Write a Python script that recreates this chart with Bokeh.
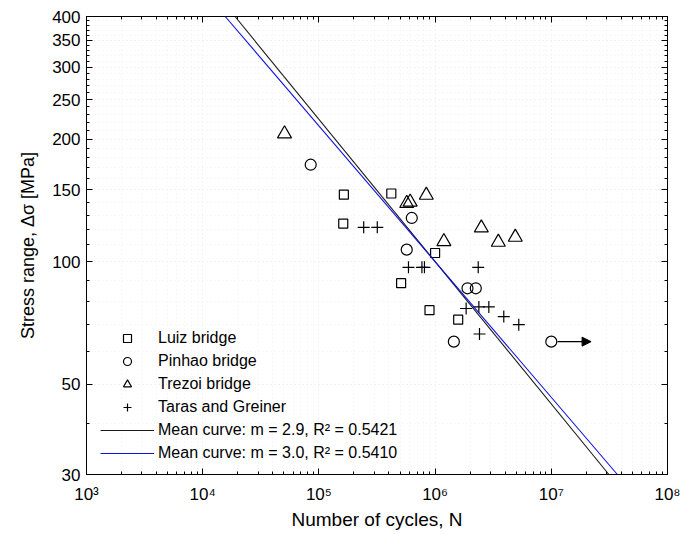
import numpy as np
from bokeh.plotting import figure
from bokeh.models import (Range1d, LogAxis, FixedTicker, Legend, LegendItem,
                          Arrow, NormalHead)
from bokeh.embed import file_html
from bokeh.resources import INLINE

# ---- data ----
luiz_N = [1.64e5, 1.62e5, 4.2e5, 1.0e6, 5.1e5, 8.95e5, 1.58e6]
luiz_S = [146, 124, 147, 105, 88.5, 76, 72]
pinhao_N = [8.5e4, 6.3e5, 5.7e5, 1.9e6, 2.24e6, 1.45e6, 1.0e7]
pinhao_S = [173, 128, 107, 86, 86, 63.6, 63.6]
trezoi_N = [5.06e4, 5.7e5, 6.1e5, 8.4e5, 1.19e6, 2.5e6, 3.5e6, 4.9e6]
trezoi_S = [206, 139, 140, 145.6, 112, 121, 111.6, 114.8]
taras_N = [2.43e5, 3.18e5, 5.9e5, 7.7e5, 8.1e5, 2.35e6, 1.85e6, 2.38e6, 2.9e6,
           3.9e6, 5.25e6, 2.41e6]
taras_S = [121.4, 121.4, 96.8, 96.8, 96.8, 96.8, 76.7, 77.4, 77.4, 73.3, 70.0, 66.4]

# run-out point arrow
runout_N = [1.0e7]
runout_S = [63.6]
runout_to_N = [2.2e7]

# mean curves: log10(N) = logC - m*log10(S)
curve_labels = ["Mean curve: m = 2.9, R² = 0.5421", "Mean curve: m = 3.0, R² = 0.5410"]
curve_m = [2.86, 3.0]
curve_logC = [11.72, 12.0]
curve_colors = ["#1a1a1a", "#1010e0"]
stress_span = [30, 400]

x_major = [10**3, 10**4, 10**5, 10**6, 10**7, 10**8]
x_labels = ["10³", "10⁴", "10⁵", "10⁶", "10⁷", "10⁸"]
y_major = [30, 50, 100, 150, 200, 250, 300, 350, 400]

FONT = "Liberation Sans"

p = figure(width=694, height=534, x_axis_type="log", y_axis_type="log",
           x_range=Range1d(1e3, 1e8), y_range=Range1d(30, 400),
           output_backend="svg", toolbar_location=None,
           min_border_left=86, min_border_right=27, min_border_top=16,
           min_border_bottom=60)
p.background_fill_color = "white"
p.border_fill_color = "white"
p.outline_line_color = "black"

x_minor = [k * 10**e for e in range(3, 8) for k in range(2, 10)]
y_minor = [v for v in range(40, 400, 10) if v not in y_major]
xticker = FixedTicker(ticks=x_major, minor_ticks=x_minor)
yticker = FixedTicker(ticks=y_major, minor_ticks=y_minor)

xa = p.xaxis[0]
ya = p.yaxis[0]
xa.ticker = xticker
ya.ticker = yticker
xa.major_label_overrides = {v: l for v, l in zip(x_major, x_labels)}
ya.major_label_overrides = {v: str(v) for v in y_major}
for ax in (xa, ya):
    ax.major_tick_in = 6
    ax.major_tick_out = 0
    ax.minor_tick_in = 3
    ax.minor_tick_out = 0
    ax.axis_line_color = "black"
    ax.major_tick_line_color = "black"
    ax.minor_tick_line_color = "black"
    ax.major_label_text_font = FONT
    ax.major_label_text_font_size = "17px"
    ax.major_label_text_color = "black"
    ax.axis_label_text_font = FONT
    ax.axis_label_text_font_size = "19px"
    ax.axis_label_text_font_style = "normal"
    ax.axis_label_text_color = "black"
ya.axis_label_text_font_size = "18px"
xa.axis_label = "Number of cycles, N"
ya.axis_label = "Stress range, Δσ [MPa]"
xa.major_label_standoff = 10
xa.axis_label_standoff = 2
ya.major_label_standoff = 6
ya.axis_label_standoff = 11

for loc, tk in (("above", xticker), ("right", yticker)):
    ax = LogAxis(ticker=tk, major_label_text_font_size="1px",
                 major_label_text_alpha=0, major_label_standoff=0,
                 major_tick_in=6, major_tick_out=0, minor_tick_in=3, minor_tick_out=0,
                 axis_line_color="black")
    p.add_layout(ax, loc)

p.xgrid.ticker = xticker
p.ygrid.ticker = yticker
for g in (p.xgrid[0], p.ygrid[0]):
    g.grid_line_color = "#e6e6e6"
    g.grid_line_dash = "1 3"
    g.minor_grid_line_color = "#f0f0f0"
    g.minor_grid_line_dash = "1 3"

items = []
r = p.scatter(luiz_N, luiz_S, marker="square", size=9, fill_color=None,
              line_color="black", line_width=1.2)
items.append(LegendItem(label="Luiz bridge", renderers=[r]))
r = p.scatter(pinhao_N, pinhao_S, marker="circle", size=11, fill_color=None,
              line_color="black", line_width=1.2)
items.append(LegendItem(label="Pinhao bridge", renderers=[r]))
r = p.scatter(trezoi_N, trezoi_S, marker="triangle", size=14, fill_color=None,
              line_color="black", line_width=1.2)
items.append(LegendItem(label="Trezoi bridge", renderers=[r]))
r = p.scatter(taras_N, taras_S, marker="cross", size=12, fill_color=None,
              line_color="black", line_width=1.2)
items.append(LegendItem(label="Taras and Greiner", renderers=[r]))

S = np.array(stress_span, dtype=float)
for lab, m, lc, col in zip(curve_labels, curve_m, curve_logC, curve_colors):
    N = 10 ** (lc - m * np.log10(S))
    r = p.line(N, S, line_color=col, line_width=1.1)
    items.append(LegendItem(label=lab, renderers=[r]))

p.add_layout(Arrow(end=NormalHead(size=9, fill_color="black", line_color="black"),
                   x_start=runout_N[0] * 1.13, y_start=runout_S[0],
                   x_end=runout_to_N[0], y_end=runout_S[0],
                   line_color="black", line_width=1.1))

leg = Legend(items=items, location=(14, 11), orientation="vertical",
             border_line_color=None, background_fill_alpha=0,
             padding=0, margin=0, spacing=3, glyph_width=54, glyph_height=20,
             label_height=20, label_standoff=4,
             label_text_font=FONT, label_text_font_size="16px",
             label_text_color="black")
p.add_layout(leg, "center")

open("out.html", "w").write(file_html(p, INLINE))
